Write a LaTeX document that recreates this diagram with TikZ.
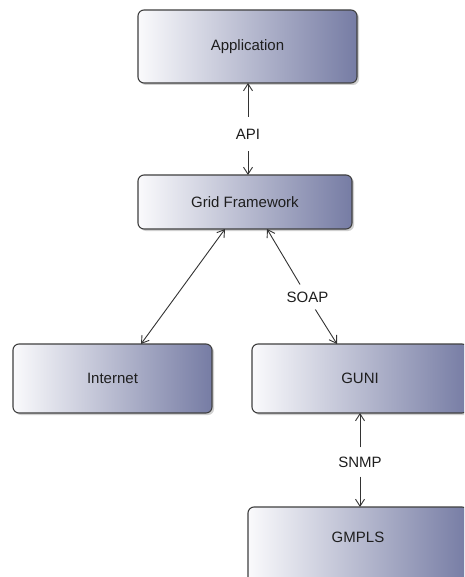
\documentclass[tikz,border=0pt]{standalone}
\usepackage{fontspec}
\setmainfont{Liberation Sans}
\usetikzlibrary{arrows.meta,shadows}
\definecolor{boxdark}{RGB}{118,124,164}
\definecolor{boxlight}{RGB}{250,250,252}
\definecolor{txt}{RGB}{30,30,30}
\begin{document}
\begin{tikzpicture}[x=1pt,y=-1pt,
  box/.style={draw=black!75, line width=1.1pt, rounded corners=6pt,
    left color=boxlight, right color=boxdark,
    drop shadow={shadow xshift=2pt, shadow yshift=-2pt, opacity=0.3, fill=black!60},
    inner sep=0pt, font=\fontsize{15}{18}\selectfont, text=txt},
  lbl/.style={font=\fontsize{15}{18}\selectfont, text=txt, inner xsep=4pt, inner ysep=12pt},
  conn/.style={draw=black!80, line width=0.9pt, arrows={-Straight Barb[length=7pt,width=9pt,line width=0.9pt]}},
  conn2/.style={draw=black!80, line width=0.9pt, arrows={Straight Barb[length=7pt,width=9pt,line width=0.9pt]-Straight Barb[length=7pt,width=9pt,line width=0.9pt]}}]
\clip (0,0) rectangle (464,577);
\fill[white] (0,0) rectangle (464,577);

\node[box, minimum width=219pt, minimum height=73pt] (app) at (247.5,46.5) {Application};
\node[box, minimum width=214pt, minimum height=54pt] (grid) at (245,202) {Grid Framework};
\node[box, minimum width=199pt, minimum height=69pt] (inet) at (112.5,378.5) {Internet};
\node[box, minimum width=216pt, minimum height=69pt] (guni) at (360,378.5) {GUNI};
\node[box, minimum width=220pt, minimum height=90pt, text height=11pt, text depth=30pt] (gmpls) at (358,552) {GMPLS};

\node[lbl] (api) at (248,134) {API};
\node[lbl, inner ysep=7pt, inner xsep=2pt] (soap) at (307.5,297) {SOAP};
\node[lbl, inner ysep=9pt] (snmp) at (360,462) {SNMP};

\coordinate (appb) at (248,83);
\coordinate (gridt) at (248,175);
\coordinate (gridbl) at (225,229);
\coordinate (gridbr) at (267,229);
\coordinate (inett) at (141,344);
\coordinate (gunit) at (337,344);
\coordinate (gunib) at (360,413);
\coordinate (gmplst) at (360,507);

\draw[conn] (api) -- (appb);
\draw[conn] (api) -- (gridt);
\draw[conn2] (inett) -- (gridbl);
\draw[conn] (soap) -- (gridbr);
\draw[conn] (soap) -- (gunit);
\draw[conn] (snmp) -- (gunib);
\draw[conn] (snmp) -- (gmplst);
\end{tikzpicture}
\end{document}
